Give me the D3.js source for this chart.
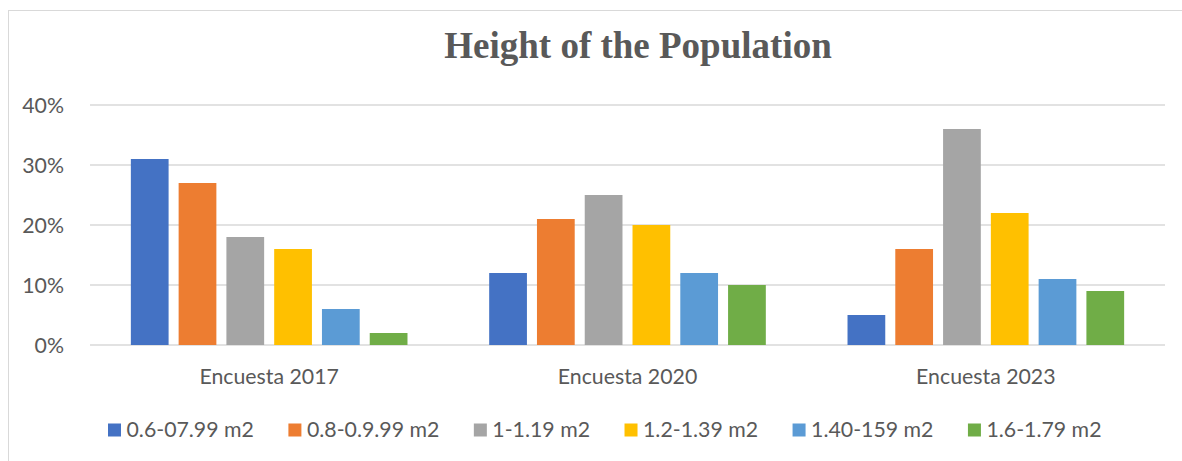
<!DOCTYPE html>
<html>
<head>
    <meta charset="utf-8">
    <script src="https://d3js.org/d3.v7.min.js"></script>
    <style>
        body { margin: 0; background: #fff; }
        svg { display: block; }
        text { font-family: "Lato", "Noto Sans", sans-serif; fill: #595959; }
    </style>
</head>
<body>
    <svg></svg>
    <script>
        const categories = ['Encuesta 2017', 'Encuesta 2020', 'Encuesta 2023']
        const series = ['0.6-07.99 m2', '0.8-0.9.99 m2', '1-1.19 m2', '1.2-1.39 m2', '1.40-159 m2', '1.6-1.79 m2']
        // percent per series, one entry per survey
        const values = [
            [31, 12, 5],
            [27, 21, 16],
            [18, 25, 36],
            [16, 20, 22],
            [6, 12, 11],
            [2, 10, 9]
        ]
        const yTicks = [0, 10, 20, 30, 40]
        const colors = ['#4472C4', '#ED7D31', '#A5A5A5', '#FFC000', '#5B9BD5', '#70AD47']

        const width = 1182, height = 461
        const plot = { left: 90, right: 1165, top: 105, bottom: 345 }
        const fs = '21.3px'

        const svg = d3.select('svg').attr('width', width).attr('height', height)

        // chart area border (runs off the right/bottom edge)
        svg.append('rect')
            .attr('x', 8.5).attr('y', 10.5)
            .attr('width', width + 20).attr('height', height + 20)
            .attr('fill', 'none').attr('stroke', '#d9d9d9')

        svg.append('text')
            .attr('x', 638).attr('y', 58)
            .attr('text-anchor', 'middle')
            .style('font-family', '"Liberation Serif", "Times New Roman", serif')
            .style('font-weight', 'bold')
            .style('font-size', '37px')
            .text('Height of the Population')

        const y = d3.scaleLinear().domain([0, 40]).range([plot.bottom, plot.top])
        const x0 = d3.scaleBand().domain(categories).range([plot.left, plot.right])
        const x1 = d3.scaleBand().domain(series).range([0, x0.bandwidth()])
            .paddingInner(0.21).paddingOuter(0.855)

        // gridlines
        svg.append('g')
            .selectAll('line')
            .data(yTicks)
            .join('line')
            .attr('x1', plot.left).attr('x2', plot.right)
            .attr('y1', d => y(d)).attr('y2', d => y(d))
            .attr('stroke', '#d9d9d9').attr('stroke-width', 1.5)

        const yAxis = svg.append('g')
            .attr('transform', 'translate(' + (plot.left - 23) + ',0)')
            .call(d3.axisLeft(y).tickValues(yTicks).tickFormat(d => d + '%').tickSize(0))
        yAxis.select('.domain').remove()
        yAxis.selectAll('text').style('font-size', fs).attr('fill', '#595959').attr('dy', '0.35em')

        const groups = svg.append('g')
            .selectAll('g')
            .data(categories)
            .join('g')
            .attr('transform', d => 'translate(' + x0(d) + ',0)')

        groups.selectAll('rect')
            .data((c, ci) => series.map((s, si) => ({ s: s, i: si, v: values[si][ci] })))
            .join('rect')
            .attr('x', d => x1(d.s))
            .attr('width', x1.bandwidth())
            .attr('y', d => y(d.v))
            .attr('height', d => y(0) - y(d.v))
            .attr('fill', d => colors[d.i])

        const xAxis = svg.append('g')
            .attr('transform', 'translate(0,' + (plot.bottom + 32) + ')')
            .call(d3.axisBottom(x0).tickSize(0))
        xAxis.select('.domain').remove()
        xAxis.selectAll('text').style('font-size', fs).attr('fill', '#595959').attr('dy', '0.35em').attr('y', 0)

        // legend
        const legend = svg.append('g').attr('transform', 'translate(0,430)')
        let lx = 108
        series.forEach((s, i) => {
            legend.append('rect')
                .attr('x', lx).attr('y', -6.5)
                .attr('width', 13).attr('height', 13)
                .attr('fill', colors[i])
            const t = legend.append('text')
                .attr('x', lx + 18.5).attr('y', 0).attr('dy', '0.35em')
                .style('font-size', fs)
                .text(s)
            lx += 18.5 + t.node().getComputedTextLength() + 34.5
        })
    </script>
</body>
</html>
